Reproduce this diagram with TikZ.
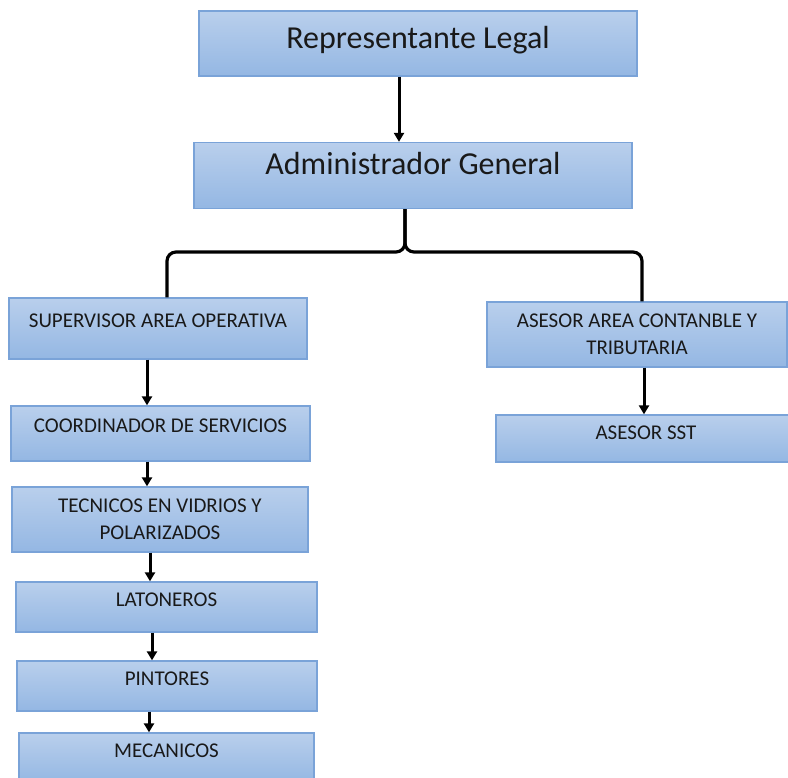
\documentclass[tikz,border=0pt]{standalone}
\usepackage{fontspec}
\setmainfont{Carlito}
\usepackage{xcolor}
\usepackage{tikz}
\usetikzlibrary{calc, positioning, arrows.meta}

\definecolor{cajaA}{RGB}{185,207,236}
\definecolor{cajaB}{RGB}{148,183,227}
\definecolor{borde}{RGB}{122,163,216}

\tikzset{
  caja/.style={rectangle, draw=borde, line width=1.3pt, top color=cajaA, bottom color=cajaB, align=center, inner sep=2pt, text=black!90},
  grande/.style={caja, font=\fontsize{32}{38}\selectfont, text height=21pt},
  chica/.style={caja, font=\fontsize{21}{27}\selectfont, text height=13.5pt, text depth=14pt},
  doble/.style={caja, font=\fontsize{21}{27}\selectfont},
  flecha/.style={line width=3pt, -{Triangle[length=9pt,width=10pt]}},
  rama/.style={line width=3.2pt, rounded corners=9pt}
}

\begin{document}
\begin{tikzpicture}[x=1pt, y=-1pt]
\useasboundingbox (0,0) rectangle (788,778);

\node[grande, minimum width=438pt, minimum height=65pt, text depth=10.6pt] (replegal) at (418,43.5) {Representante Legal};
\node[grande, minimum width=438pt, minimum height=66pt, text depth=22pt] (admin) at (413,175.5) {Administrador General};

% rama izquierda
\node[chica, minimum width=298pt, minimum height=61pt, text depth=16pt] (supervisor) at (158,328.5) {SUPERVISOR AREA OPERATIVA};
\node[chica, minimum width=299pt, minimum height=55pt, text depth=16pt] (coord) at (160.5,433.5) {COORDINADOR DE SERVICIOS};
\node[doble, minimum width=296pt, minimum height=65pt] (tecnicos) at (160,519.5) {TECNICOS EN VIDRIOS Y\\POLARIZADOS};
\node[chica, minimum width=301pt, minimum height=50pt] (latoneros) at (166.5,607) {LATONEROS};
\node[chica, minimum width=300pt, minimum height=50pt] (pintores) at (167,686) {PINTORES};
\node[chica, minimum width=295pt, minimum height=50pt] (mecanicos) at (166.5,758) {MECANICOS};

% rama derecha
\node[doble, minimum width=300pt, minimum height=65pt] (contable) at (637,334.5) {ASESOR AREA CONTANBLE Y\\TRIBUTARIA};
\node[chica, minimum width=300pt, minimum height=47pt, text depth=11pt] (sst) at (646,438.5) {ASESOR SST};

\draw[flecha] ([xshift=-19pt]replegal.south) -- ([xshift=-19pt]replegal.south |- admin.north);

\draw[rama] ([xshift=-8pt]admin.south) |- ([xshift=9pt]supervisor.north |- 0,252) -- ([xshift=9pt]supervisor.north);
\draw[rama] ([xshift=-8pt]admin.south) |- ([xshift=5pt]contable.north |- 0,252) -- ([xshift=5pt]contable.north);

\draw[flecha] ([xshift=-11pt]supervisor.south) -- ([xshift=-11pt]supervisor.south |- coord.north);
\draw[flecha] ([xshift=-13.5pt]coord.south) -- ([xshift=-13.5pt]coord.south |- tecnicos.north);
\draw[flecha] ([xshift=-10pt]tecnicos.south) -- ([xshift=-10pt]tecnicos.south |- latoneros.north);
\draw[flecha] ([xshift=-14.5pt]latoneros.south) -- ([xshift=-14.5pt]latoneros.south |- pintores.north);
\draw[flecha] ([xshift=-18pt]pintores.south) -- ([xshift=-18pt]pintores.south |- mecanicos.north);
\draw[flecha] ([xshift=7pt]contable.south) -- ([xshift=7pt]contable.south |- sst.north);

\end{tikzpicture}
\end{document}
